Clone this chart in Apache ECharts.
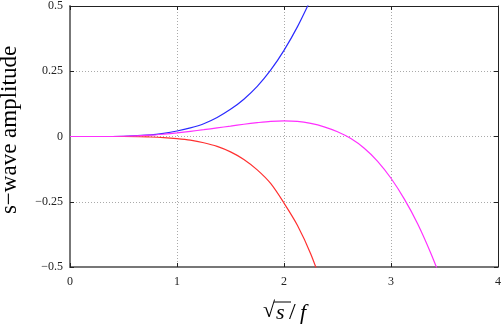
<!DOCTYPE html>
<html>
<head>
<meta charset="utf-8">
<script src="https://cdn.jsdelivr.net/npm/echarts@6/dist/echarts.min.js"></script>
<style>
  html, body { margin: 0; padding: 0; background: #fff; }
  #chart { width: 504px; height: 327px; }
</style>
</head>
<body>
<div id="chart"></div>
<script>
// values
const blueX = [0, 0.25, 0.5, 0.75, 0.875, 1, 1.125, 1.25, 1.375, 1.5, 1.625, 1.75, 1.875, 2, 2.125, 2.25]
const blueY = [0, 0, 0.001, 0.006, 0.012, 0.021, 0.033, 0.049, 0.073, 0.104, 0.143, 0.192, 0.254, 0.33, 0.42, 0.525]

const redX = [0, 0.25, 0.5, 0.75, 0.875, 1, 1.125, 1.25, 1.375, 1.5, 1.625, 1.75, 1.875, 2, 2.125, 2.25, 2.375]
const redY = [0, 0, 0, -0.002, -0.004, -0.008, -0.014, -0.024, -0.038, -0.059, -0.088, -0.128, -0.18, -0.255, -0.34, -0.45, -0.59]

const magX = [0, 0.25, 0.5, 0.75, 0.875, 1, 1.125, 1.25, 1.375, 1.5, 1.625, 1.75, 1.875, 2, 2.125, 2.25, 2.375, 2.5,
  2.625, 2.75, 2.875, 3, 3.125, 3.25, 3.375, 3.5]
const magY = [0, 0, 0.001, 0.005, 0.009, 0.014, 0.02, 0.026, 0.033, 0.04, 0.047, 0.053, 0.058, 0.06, 0.058, 0.05, 0.037, 0.018,
  -0.008, -0.045, -0.095, -0.16, -0.24, -0.335, -0.45, -0.58]

const xTicks = [0, 1, 2, 3, 4]
const yTicks = [-0.5, -0.25, 0, 0.25, 0.5]

const serif = '"Liberation Serif", "DejaVu Serif", serif'

const chart = echarts.init(document.getElementById('chart'))

function pairs(xs, ys) {
  return xs.map((x, i) => [x, ys[i]])
}

function line(name, xs, ys, color) {
  return {
    name: name,
    type: 'line',
    data: pairs(xs, ys),
    symbol: 'none',
    smooth: 0.3,
    clip: true,
    lineStyle: { color: color, width: 1.2 }
  }
}

const frameAxis = {
  axisLine: { show: true, onZero: false, lineStyle: { color: '#222', width: 1 } },
  axisTick: { show: true, inside: true, length: 4, lineStyle: { color: '#222' } },
  axisLabel: { show: false },
  splitLine: { show: false }
}

const gridLine = { show: true, lineStyle: { color: '#aaa', type: [1, 2], width: 1 } }

const option = {
  animation: false,
  grid: { left: 70, right: 6, top: 5, bottom: 60 },
  xAxis: [
    {
      type: 'value',
      min: xTicks[0],
      max: xTicks[xTicks.length - 1],
      interval: 1,
      axisLine: { show: true, onZero: false, lineStyle: { color: '#777', width: 2 } },
      axisTick: { show: true, inside: true, length: 4, lineStyle: { color: '#222' } },
      axisLabel: { color: '#222', fontFamily: serif, fontSize: 12, margin: 9 },
      splitLine: gridLine
    },
    Object.assign({ type: 'value', position: 'top', min: 0, max: 4, interval: 1 }, frameAxis)
  ],
  yAxis: [
    {
      type: 'value',
      min: yTicks[0],
      max: yTicks[yTicks.length - 1],
      interval: 0.25,
      axisLine: { show: true, onZero: false, lineStyle: { color: '#777', width: 2 } },
      axisTick: { show: true, inside: true, length: 4, lineStyle: { color: '#222' } },
      axisLabel: {
        color: '#222', fontFamily: serif, fontSize: 12, margin: 7,
        formatter: v => String(v).replace('-', '\u2212')
      },
      splitLine: gridLine
    },
    Object.assign({ type: 'value', position: 'right', min: -0.5, max: 0.5, interval: 0.25 }, frameAxis)
  ],
  series: [
    line('blue', blueX, blueY, '#2b2bff'),
    line('red', redX, redY, '#ff3030'),
    line('magenta', magX, magY, '#ff30ff')
  ],
  graphic: [
    {
      type: 'text',
      x: 10, y: 130,
      rotation: Math.PI / 2,
      style: {
        text: 's\u2212wave amplitude',
        font: '23px ' + serif,
        fill: '#000',
        align: 'center',
        verticalAlign: 'middle'
      }
    },
    {
      type: 'group',
      x: 263, y: 300,
      children: [
        { type: 'text', x: 0, y: 0, style: { text: '\u221a', font: '22px ' + serif, fill: '#000' } },
        { type: 'line', shape: { x1: 11, y1: 2, x2: 28, y2: 2 }, style: { stroke: '#000', lineWidth: 1 } },
        { type: 'text', x: 13, y: 2, style: { text: 's', font: 'italic 22px ' + serif, fill: '#000' } },
        { type: 'text', x: 26, y: 1, style: { text: '/', font: '24px ' + serif, fill: '#000' } },
        { type: 'text', x: 37, y: 2, style: { text: 'f', font: 'italic 22px ' + serif, fill: '#000' } }
      ]
    }
  ]
}

chart.setOption(option)

window.addEventListener('resize', () => {
  chart.resize()
})
</script>
</body>
</html>
